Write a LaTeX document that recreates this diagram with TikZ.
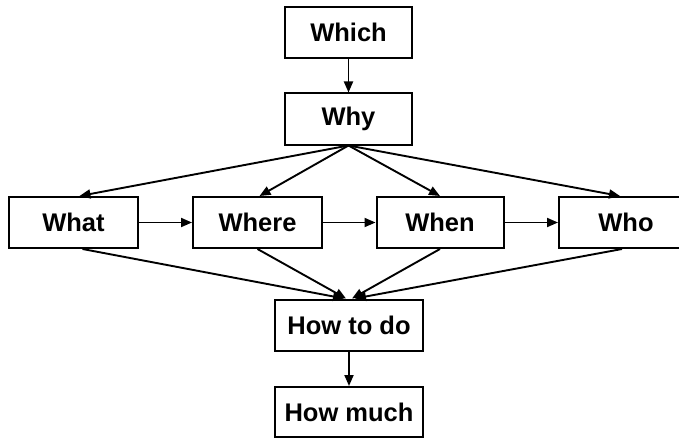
\documentclass[tikz,border=0pt]{standalone}
\usepackage{fontspec}
\setmainfont{Liberation Sans}
\usetikzlibrary{arrows.meta}
\begin{document}
\begin{tikzpicture}[x=1pt,y=-1pt,
  qbox/.style={draw=black,line width=2pt,fill=white,minimum height=51pt,inner sep=0pt,
    font=\bfseries\fontsize{25.5pt}{30pt}\selectfont},
  link/.style={line width=1.9pt,-{Triangle[length=11pt,width=9pt]}}]
  \useasboundingbox[fill=white] (0,0) rectangle (679,441);
  % question boxes, top to bottom
  \node[qbox,minimum width=127pt] (which) at (348.5,32.5) {Which};
  \node[qbox,minimum width=127pt] (why) at (348.5,119) {Why};
  \node[qbox,minimum width=129pt] (what) at (73.5,222.5) {What};
  \node[qbox,minimum width=129pt] (where) at (257.5,222.5) {Where};
  \node[qbox,minimum width=127pt] (when) at (440,222.5) {When};
  \node[qbox,minimum width=134pt] (who) at (626,222.5) {Who};
  \node[qbox,minimum width=148pt] (howto) at (349,325) {How to do};
  \node[qbox,minimum width=148pt,minimum height=50pt] (howmuch) at (349,412) {How much};
  % vertical chain
  \draw[link] (which.south) -- (why.north);
  \draw[link] (howto.south) -- (howmuch.north);
  % fan out from Why
  \draw[link] (why.south) -- ([xshift=6pt]what.north);
  \draw[link] (why.south) -- ([xshift=2pt]where.north);
  \draw[link] (why.south) -- (when.north);
  \draw[link] (why.south) -- ([xshift=-6pt]who.north);
  % horizontal sequence
  \draw[link] (what.east) -- (where.west);
  \draw[link] (where.east) -- (when.west);
  \draw[link] (when.east) -- (who.west);
  % fan in to How to do
  \draw[link] ([xshift=9pt]what.south) -- ([xshift=-5pt]howto.north);
  \draw[link] (where.south) -- ([xshift=-3pt]howto.north);
  \draw[link] (when.south) -- ([xshift=3pt]howto.north);
  \draw[link] ([xshift=-4pt]who.south) -- ([xshift=6pt]howto.north);
\end{tikzpicture}
\end{document}
